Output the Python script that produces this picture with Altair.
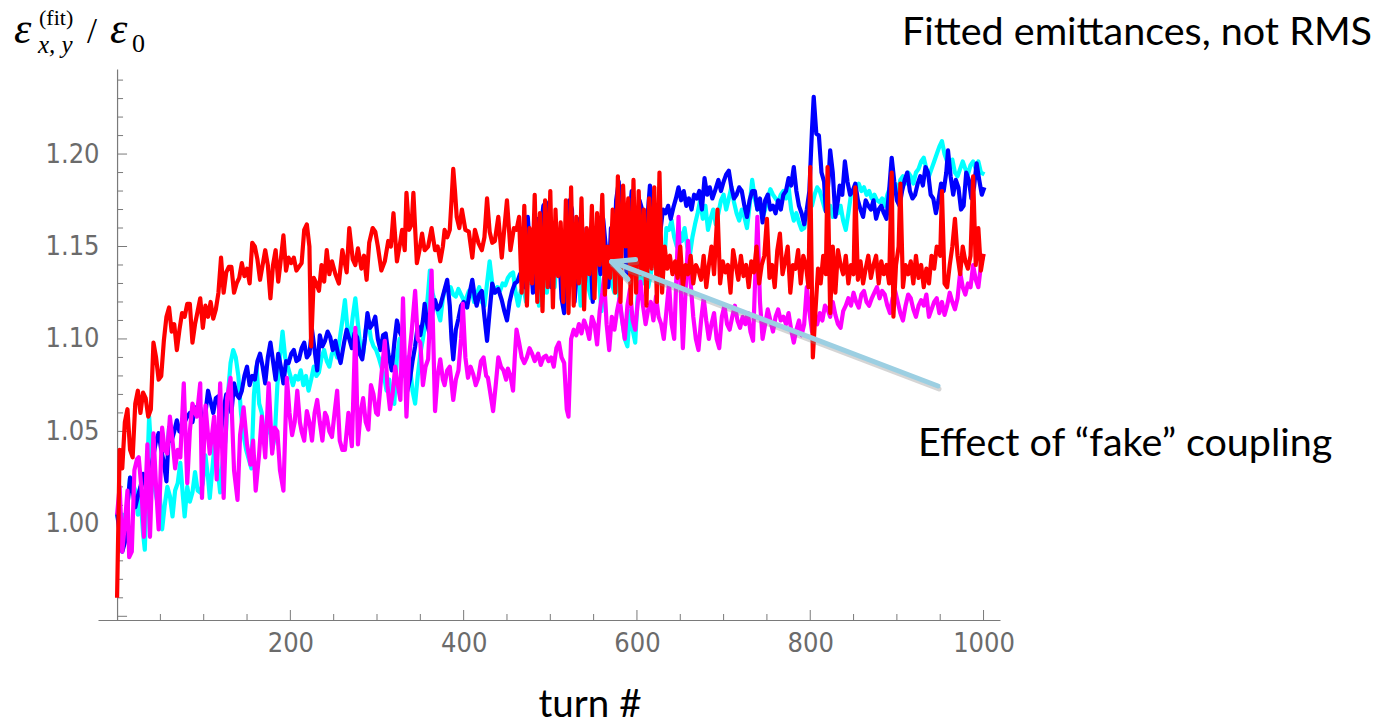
import math
import altair as alt
import pandas as pd

# ---------------- data (turn, emittance ratio) ----------------
RED = [(0,0.960),(3,1.040),(6,1.030),(9,1.055),(12,1.062),(15,1.040),(18,1.036),(21,1.065),(24,1.072),(27,1.060),
(30,1.071),(33,1.068),(36,1.058),(39,1.062),(42,1.098),(45,1.090),(48,1.078),(51,1.080),(54,1.099),(57,1.112),
(60,1.117),(63,1.104),(66,1.108),(69,1.094),(72,1.105),(75,1.114),(78,1.112),(81,1.119),(84,1.119),(87,1.098),
(90,1.108),(93,1.115),(96,1.122),(99,1.106),(102,1.118),(105,1.112),(108,1.120),(111,1.111),(114,1.116),(117,1.125),
(120,1.144),(123,1.125),(126,1.136),(129,1.139),(132,1.139),(135,1.125),(138,1.130),(141,1.133),(144,1.141),(147,1.134),
(150,1.138),(153,1.130),(156,1.152),(159,1.150),(162,1.143),(165,1.132),(168,1.140),(171,1.148),(174,1.140),(177,1.122),
(180,1.140),(183,1.148),(186,1.131),(189,1.143),(192,1.156),(195,1.137),(198,1.144),(201,1.141),(204,1.144),(207,1.137),
(210,1.139),(213,1.141),(216,1.159),(219,1.162),(222,1.150),(224,1.096),(227,1.133),(230,1.130),(233,1.126),(236,1.140),
(239,1.131),(242,1.148),(245,1.135),(248,1.142),(252,1.135),(256,1.130),(260,1.148),(265,1.136),(268,1.160),(272,1.143),
(275,1.140),(278,1.149),(282,1.138),(285,1.145),(288,1.132),(291,1.152),(295,1.160),(298,1.158),(301,1.150),(305,1.137),
(309,1.142),(313,1.153),(316,1.150),(319,1.168),(323,1.142),(326,1.150),(329,1.159),(332,1.148),(334,1.179),(337,1.159),
(340,1.162),(342,1.179),(346,1.141),(349,1.148),(352,1.157),(355,1.148),(359,1.150),(363,1.160),(367,1.148),(370,1.150),
(373,1.142),(376,1.150),(378,1.159),(381,1.155),(384,1.159),(386,1.175),(388,1.192),(390,1.180),(392,1.166),(395,1.160),
(398,1.170),(402,1.159),(406,1.158),(410,1.144),(413,1.159),(417,1.152),(421,1.148),(424,1.155),(427,1.176),(430,1.158),
(433,1.152),(436,1.153),(440,1.166),(444,1.144),(447,1.160),(450,1.175),(454,1.148),(458,1.160),(461,1.159),(464,1.166),
(467,1.125),(470,1.172),(473,1.118),(476,1.160),(479,1.130),(482,1.178),(485,1.120),(488,1.168),(491,1.115),(494,1.175),
(497,1.128),(500,1.180),(503,1.117),(506,1.170),(509,1.134),(512,1.163),(515,1.120),(518,1.175),(521,1.114),(524,1.182),
(527,1.118),(530,1.166),(533,1.130),(536,1.176),(539,1.116),(542,1.160),(545,1.135),(548,1.172),(551,1.122),(554,1.168),
(557,1.140),(560,1.178),(563,1.124),(566,1.150),(569,1.133),(572,1.170),(575,1.125),(578,1.188),(581,1.120),(584,1.183),
(587,1.150),(590,1.176),(593,1.119),(596,1.186),(599,1.125),(602,1.180),(605,1.135),(608,1.170),(611,1.118),(614,1.176),
(617,1.138),(620,1.182),(623,1.120),(626,1.190),(629,1.125),(632,1.150),(635,1.138),(638,1.145),(641,1.135),(644,1.142),
(647,1.133),(650,1.150),(653,1.128),(656,1.140),(659,1.135),(662,1.145),(665,1.130),(668,1.140),(671,1.137),(674,1.132),
(677,1.145),(680,1.128),(683,1.140),(686,1.150),(689,1.135),(693,1.170),(696,1.130),(699,1.142),(702,1.136),(705,1.140),
(708,1.125),(711,1.148),(714,1.140),(717,1.132),(720,1.145),(723,1.134),(726,1.140),(729,1.128),(732,1.142),(735,1.136),
(738,1.150),(741,1.130),(744,1.140),(747,1.145),(750,1.165),(753,1.133),(756,1.140),(759,1.128),(762,1.148),(765,1.157),
(768,1.135),(771,1.142),(774,1.150),(777,1.125),(780,1.140),(783,1.138),(786,1.148),(789,1.130),(792,1.145),(795,1.140),
(798,1.128),(800,1.193),(803,1.090),(806,1.115),(809,1.138),(812,1.130),(815,1.145),(818,1.135),(820,1.193),(823,1.114),
(826,1.150),(829,1.125),(832,1.148),(835,1.140),(838,1.135),(841,1.145),(844,1.130),(847,1.140),(850,1.135),(852,1.182),
(855,1.132),(858,1.142),(861,1.130),(864,1.138),(867,1.145),(870,1.133),(873,1.140),(876,1.145),(879,1.130),(882,1.142),
(885,1.135),(888,1.140),(891,1.130),(894,1.190),(896,1.112),(899,1.140),(902,1.150),(904,1.184),(907,1.128),(910,1.140),
(913,1.135),(916,1.142),(919,1.130),(922,1.145),(925,1.133),(928,1.140),(931,1.128),(934,1.138),(937,1.130),(940,1.145),
(943,1.138),(946,1.150),(950,1.145),(952,1.180),(955,1.130),(958,1.128),(961,1.140),(964,1.150),(967,1.165),(970,1.145),
(973,1.135),(976,1.150),(979,1.142),(982,1.138),(985,1.145),(988,1.188),(991,1.140),(994,1.160),(997,1.137),(1000,1.146)]

BLUE = [(0,1.006),(3,0.995),(6,0.985),(9,0.990),(12,1.010),(15,1.025),(18,1.018),(21,1.009),(24,1.015),(27,1.020),
(30,1.027),(33,1.020),(36,1.022),(39,1.030),(42,1.037),(45,1.045),(48,1.049),(51,1.040),(54,1.033),(57,1.023),
(60,1.052),(63,1.045),(66,1.050),(69,1.056),(72,1.050),(75,1.049),(78,1.055),(81,1.058),(84,1.060),(87,1.055),
(90,1.063),(93,1.060),(96,1.063),(99,1.052),(102,1.060),(105,1.072),(108,1.066),(111,1.060),(114,1.068),(117,1.069),
(120,1.050),(123,1.062),(126,1.070),(129,1.064),(132,1.060),(135,1.076),(138,1.070),(141,1.068),(144,1.072),(147,1.080),
(150,1.085),(153,1.075),(156,1.080),(159,1.078),(162,1.088),(165,1.092),(168,1.085),(171,1.076),(174,1.090),(177,1.098),
(180,1.088),(183,1.078),(186,1.092),(189,1.085),(192,1.076),(195,1.088),(198,1.087),(201,1.092),(204,1.094),(207,1.088),
(210,1.089),(213,1.095),(216,1.098),(219,1.090),(222,1.092),(225,1.105),(228,1.094),(231,1.083),(234,1.102),(237,1.096),
(240,1.099),(243,1.104),(246,1.101),(249,1.094),(252,1.099),(255,1.092),(258,1.087),(262,1.098),(265,1.105),(268,1.100),
(271,1.095),(274,1.103),(277,1.101),(280,1.092),(283,1.089),(286,1.100),(289,1.114),(292,1.106),(295,1.108),(298,1.112),
(301,1.100),(304,1.094),(307,1.102),(310,1.103),(313,1.092),(317,1.083),(320,1.098),(323,1.110),(326,1.104),(329,1.101),
(332,1.085),(335,1.072),(338,1.078),(341,1.088),(344,1.096),(347,1.107),(350,1.102),(353,1.110),(355,1.119),(358,1.108),
(361,1.102),(364,1.115),(367,1.121),(370,1.116),(373,1.118),(377,1.125),(381,1.132),(384,1.118),(386,1.100),(388,1.089),
(391,1.105),(394,1.111),(397,1.118),(400,1.120),(404,1.117),(407,1.125),(410,1.132),(413,1.122),(415,1.118),(418,1.124),
(421,1.126),(424,1.112),(427,1.099),(430,1.115),(433,1.130),(436,1.125),(440,1.127),(444,1.121),(447,1.115),(450,1.110),
(453,1.120),(456,1.126),(459,1.130),(462,1.131),(465,1.135),(468,1.130),(471,1.128),(474,1.166),(477,1.145),(480,1.125),
(483,1.140),(486,1.165),(489,1.160),(492,1.172),(495,1.174),(498,1.150),(501,1.128),(504,1.135),(507,1.140),(510,1.150),
(513,1.122),(516,1.114),(519,1.160),(522,1.175),(525,1.170),(528,1.120),(531,1.140),(534,1.165),(537,1.160),(540,1.130),
(543,1.158),(546,1.150),(549,1.120),(552,1.155),(555,1.145),(558,1.135),(561,1.165),(564,1.150),(567,1.128),(570,1.160),
(573,1.140),(576,1.175),(579,1.185),(582,1.150),(585,1.170),(588,1.135),(591,1.165),(594,1.180),(597,1.160),(600,1.140),
(603,1.175),(606,1.170),(609,1.150),(612,1.165),(615,1.183),(618,1.172),(621,1.160),(624,1.168),(627,1.158),(630,1.170),
(633,1.168),(636,1.172),(639,1.165),(642,1.171),(645,1.176),(648,1.182),(651,1.175),(654,1.180),(657,1.172),(660,1.176),
(663,1.170),(666,1.178),(669,1.176),(672,1.180),(675,1.170),(678,1.187),(681,1.178),(684,1.182),(687,1.176),(690,1.180),
(694,1.186),(697,1.180),(700,1.185),(703,1.189),(706,1.191),(709,1.182),(712,1.176),(715,1.178),(718,1.182),(721,1.180),
(724,1.172),(727,1.166),(730,1.175),(733,1.180),(736,1.180),(739,1.170),(742,1.176),(745,1.163),(748,1.175),(751,1.178),
(754,1.170),(757,1.172),(760,1.168),(763,1.175),(766,1.170),(769,1.178),(772,1.180),(775,1.187),(778,1.183),(781,1.193),
(784,1.180),(787,1.172),(790,1.168),(793,1.162),(796,1.170),(799,1.180),(802,1.213),(804,1.231),(807,1.211),(810,1.210),
(813,1.190),(816,1.185),(818,1.169),(821,1.185),(823,1.202),(826,1.190),(829,1.166),(832,1.175),(834,1.183),(837,1.178),
(840,1.196),(843,1.185),(846,1.178),(849,1.180),(852,1.184),(855,1.175),(858,1.170),(861,1.166),(864,1.175),(867,1.172),
(870,1.170),(873,1.175),(876,1.165),(879,1.170),(882,1.172),(885,1.168),(888,1.165),(891,1.180),(894,1.198),(897,1.185),
(900,1.175),(903,1.172),(906,1.180),(909,1.186),(912,1.190),(915,1.180),(918,1.176),(921,1.178),(924,1.184),(927,1.188),
(930,1.183),(933,1.193),(936,1.190),(939,1.178),(942,1.176),(945,1.168),(948,1.175),(951,1.184),(954,1.180),(957,1.190),
(959,1.202),(962,1.188),(965,1.178),(968,1.186),(971,1.182),(974,1.170),(977,1.172),(980,1.190),(983,1.186),(986,1.176),
(989,1.182),(992,1.195),(995,1.186),(998,1.178),(1001,1.182)]

CYAN = [(0,1.005),(3,1.000),(6,1.005),(9,0.995),(12,1.010),(15,1.025),(18,1.022),(21,1.018),(24,1.005),(27,1.015),
(30,0.995),(32,0.986),(35,1.030),(37,1.058),(40,1.035),(43,1.020),(46,1.013),(49,1.017),(52,0.997),(55,1.010),
(58,1.020),(61,1.015),(64,1.004),(67,1.018),(70,1.022),(73,1.033),(76,1.015),(78,1.004),(81,1.020),(84,1.012),
(87,1.017),(90,1.028),(93,1.018),(96,1.017),(99,1.022),(102,1.037),(105,1.025),(107,1.014),(110,1.030),(113,1.045),
(116,1.030),(119,1.017),(122,1.035),(125,1.045),(128,1.070),(131,1.087),(134,1.094),(137,1.090),(140,1.080),(143,1.060),
(146,1.048),(149,1.040),(152,1.035),(155,1.030),(158,1.070),(161,1.085),(164,1.065),(167,1.060),(170,1.045),(173,1.050),
(176,1.055),(179,1.040),(182,1.047),(185,1.075),(188,1.090),(191,1.104),(194,1.090),(197,1.085),(200,1.080),(203,1.075),
(206,1.080),(209,1.078),(212,1.083),(215,1.075),(218,1.080),(221,1.072),(224,1.078),(227,1.085),(230,1.080),(233,1.082),
(236,1.090),(239,1.094),(242,1.088),(245,1.085),(248,1.092),(251,1.094),(254,1.090),(257,1.100),(260,1.110),(263,1.121),
(266,1.105),(269,1.100),(272,1.112),(275,1.122),(278,1.108),(281,1.095),(284,1.092),(287,1.105),(290,1.110),(293,1.100),
(296,1.096),(299,1.094),(302,1.090),(305,1.085),(308,1.080),(311,1.072),(314,1.078),(317,1.067),(320,1.065),(323,1.090),
(326,1.100),(329,1.085),(332,1.080),(335,1.090),(338,1.085),(341,1.072),(344,1.065),(347,1.080),(350,1.092),(353,1.100),
(356,1.110),(359,1.125),(361,1.137),(364,1.125),(367,1.120),(370,1.115),(373,1.110),(376,1.122),(379,1.128),(382,1.126),
(385,1.128),(388,1.124),(391,1.123),(394,1.127),(397,1.124),(400,1.121),(403,1.122),(406,1.126),(409,1.127),(412,1.120),
(415,1.124),(418,1.128),(421,1.120),(424,1.118),(427,1.130),(430,1.142),(433,1.130),(436,1.125),(439,1.128),(442,1.126),
(445,1.130),(448,1.129),(451,1.133),(454,1.135),(457,1.136),(460,1.125),(463,1.118),(466,1.126),(469,1.128),(472,1.120),
(475,1.140),(478,1.130),(481,1.150),(484,1.130),(487,1.118),(490,1.135),(493,1.145),(496,1.125),(499,1.140),(502,1.132),
(505,1.128),(508,1.150),(511,1.138),(514,1.126),(517,1.140),(520,1.155),(523,1.135),(526,1.130),(529,1.150),(532,1.142),
(535,1.118),(538,1.135),(541,1.148),(544,1.128),(547,1.122),(550,1.140),(553,1.150),(556,1.135),(559,1.115),(562,1.130),
(565,1.145),(568,1.150),(571,1.130),(574,1.125),(577,1.140),(580,1.120),(583,1.110),(586,1.100),(589,1.096),(592,1.115),
(595,1.105),(598,1.098),(601,1.125),(604,1.140),(607,1.130),(610,1.145),(613,1.128),(616,1.135),(619,1.148),(622,1.140),
(625,1.130),(628,1.150),(631,1.138),(634,1.160),(637,1.159),(640,1.164),(643,1.155),(646,1.150),(649,1.158),(652,1.153),
(655,1.160),(658,1.150),(661,1.145),(664,1.155),(667,1.162),(670,1.168),(673,1.175),(676,1.165),(679,1.172),(682,1.159),
(685,1.165),(688,1.170),(691,1.162),(694,1.168),(697,1.175),(700,1.178),(703,1.170),(706,1.176),(709,1.182),(712,1.174),
(715,1.168),(718,1.164),(721,1.170),(724,1.166),(727,1.160),(730,1.172),(733,1.186),(736,1.176),(739,1.170),(742,1.172),
(745,1.166),(748,1.170),(751,1.176),(754,1.181),(757,1.178),(760,1.176),(763,1.174),(766,1.178),(769,1.180),(772,1.176),
(775,1.182),(778,1.170),(781,1.164),(784,1.168),(787,1.163),(790,1.159),(793,1.160),(796,1.168),(799,1.175),(802,1.172),
(805,1.178),(808,1.182),(811,1.180),(814,1.175),(817,1.170),(820,1.168),(823,1.172),(826,1.166),(829,1.170),(832,1.168),
(835,1.172),(838,1.164),(841,1.159),(844,1.168),(847,1.178),(850,1.180),(853,1.182),(856,1.184),(859,1.180),(862,1.182),
(865,1.178),(868,1.180),(871,1.176),(874,1.178),(877,1.175),(880,1.174),(883,1.176),(886,1.172),(889,1.178),(892,1.182),
(895,1.185),(898,1.184),(901,1.180),(904,1.186),(907,1.188),(910,1.184),(913,1.190),(916,1.188),(919,1.184),(922,1.190),
(925,1.192),(928,1.196),(931,1.198),(934,1.192),(937,1.188),(940,1.192),(943,1.196),(946,1.200),(949,1.204),(952,1.207),
(955,1.200),(958,1.196),(961,1.192),(964,1.197),(967,1.190),(970,1.188),(973,1.192),(976,1.196),(979,1.192),(982,1.189),
(985,1.194),(988,1.196),(991,1.192),(994,1.196),(997,1.190),(1001,1.189)]

MAGENTA = [(0,1.005),(3,1.020),(6,0.985),(9,1.000),(12,1.018),(14,0.982),(17,0.985),(20,1.029),(23,1.035),(25,1.036),
(28,1.020),(31,0.993),(35,1.043),(38,0.993),(42,1.049),(45,1.020),(48,0.997),(52,1.052),(55,1.040),(58,1.038),
(61,1.058),(64,1.045),(67,1.030),(70,1.040),(73,1.036),(77,1.076),(81,1.022),(84,1.050),(87,1.065),(90,1.060),
(92,1.058),(96,1.076),(98,1.014),(102,1.064),(105,1.048),(107,1.038),(110,1.050),(112,1.058),(115,1.024),(119,1.076),
(123,1.014),(127,1.068),(131,1.079),(135,1.029),(139,1.013),(142,1.048),(146,1.063),(150,1.043),(154,1.032),(157,1.045),
(160,1.018),(164,1.038),(167,1.058),(171,1.036),(175,1.076),(179,1.038),(182,1.052),(185,1.050),(188,1.029),(192,1.018),
(196,1.079),(199,1.060),(202,1.048),(205,1.055),(208,1.072),(211,1.055),(213,1.050),(216,1.045),(219,1.061),(222,1.055),
(225,1.045),(228,1.060),(231,1.067),(234,1.055),(237,1.045),(240,1.060),(242,1.058),(245,1.050),(248,1.047),(251,1.060),
(254,1.072),(257,1.045),(260,1.040),(263,1.040),(267,1.060),(271,1.042),(275,1.106),(278,1.043),(281,1.060),(284,1.068),
(287,1.055),(290,1.051),(293,1.075),(296,1.070),(299,1.060),(301,1.059),(305,1.080),(309,1.099),(312,1.075),(315,1.062),
(318,1.070),(321,1.085),(324,1.075),(327,1.067),(330,1.122),(334,1.058),(337,1.090),(340,1.104),(344,1.126),(347,1.100),
(350,1.098),(353,1.075),(356,1.085),(359,1.089),(361,1.110),(363,1.137),(367,1.061),(370,1.080),(373,1.089),(376,1.078),
(378,1.075),(381,1.083),(384,1.085),(388,1.067),(391,1.078),(394,1.083),(397,1.100),(399,1.119),(402,1.090),(405,1.079),
(408,1.085),(411,1.081),(414,1.075),(417,1.079),(420,1.088),(423,1.090),(426,1.080),(428,1.079),(431,1.070),(434,1.061),
(437,1.075),(440,1.090),(443,1.085),(446,1.083),(449,1.078),(451,1.084),(454,1.080),(457,1.072),(459,1.090),(461,1.105),
(464,1.098),(467,1.090),(470,1.087),(473,1.090),(476,1.095),(479,1.092),(482,1.088),(486,1.092),(489,1.086),(492,1.090),
(495,1.091),(498,1.088),(501,1.090),(504,1.085),(507,1.095),(510,1.098),(513,1.090),(516,1.087),(519,1.062),(521,1.058),
(524,1.100),(527,1.105),(530,1.102),(533,1.108),(536,1.103),(539,1.110),(542,1.106),(545,1.100),(548,1.112),(551,1.108),
(554,1.097),(557,1.115),(560,1.125),(562,1.133),(565,1.108),(568,1.094),(571,1.112),(574,1.105),(577,1.115),(580,1.122),
(583,1.110),(586,1.100),(589,1.118),(592,1.127),(595,1.110),(598,1.105),(601,1.120),(604,1.131),(607,1.118),(610,1.108),
(613,1.116),(616,1.120),(619,1.110),(622,1.123),(625,1.112),(628,1.108),(631,1.100),(634,1.115),(637,1.130),(640,1.108),
(643,1.100),(646,1.140),(648,1.166),(651,1.120),(653,1.095),(656,1.125),(659,1.153),(662,1.130),(665,1.112),(668,1.100),
(671,1.094),(674,1.110),(677,1.122),(680,1.110),(683,1.100),(686,1.108),(689,1.114),(692,1.100),(695,1.095),(698,1.112),
(701,1.118),(704,1.108),(707,1.105),(710,1.112),(713,1.118),(716,1.110),(719,1.106),(722,1.112),(725,1.108),(728,1.114),
(731,1.104),(734,1.099),(737,1.140),(739,1.166),(742,1.120),(745,1.100),(748,1.108),(751,1.116),(754,1.110),(757,1.104),
(760,1.112),(763,1.116),(766,1.110),(769,1.112),(772,1.108),(775,1.114),(778,1.105),(781,1.098),(784,1.105),(787,1.110),
(790,1.102),(793,1.108),(796,1.128),(799,1.115),(802,1.104),(805,1.110),(808,1.108),(811,1.114),(814,1.110),(817,1.118),
(820,1.116),(823,1.112),(826,1.120),(829,1.113),(832,1.108),(835,1.106),(838,1.115),(841,1.118),(844,1.122),(847,1.118),
(850,1.125),(853,1.120),(856,1.117),(859,1.124),(862,1.126),(865,1.120),(868,1.118),(871,1.122),(874,1.125),(877,1.128),
(880,1.122),(883,1.126),(886,1.124),(889,1.118),(892,1.114),(895,1.122),(898,1.126),(901,1.120),(904,1.114),(907,1.110),
(910,1.118),(913,1.124),(916,1.122),(919,1.116),(922,1.112),(925,1.118),(928,1.121),(931,1.118),(934,1.124),(937,1.112),
(940,1.116),(943,1.120),(946,1.122),(949,1.114),(952,1.120),(955,1.113),(958,1.118),(961,1.125),(964,1.120),(967,1.116),
(970,1.122),(973,1.136),(976,1.128),(979,1.124),(982,1.130),(985,1.128),(988,1.140),(991,1.132),(994,1.128),(997,1.140),
(1000,1.146)]

# axis ticks / labels
X_LABELS = [200, 400, 600, 800, 1000]
X_MINOR = [50, 100, 150, 250, 300, 350, 450, 500, 550, 650, 700, 750, 850, 900, 950]
Y_LABELS = [1.00, 1.05, 1.10, 1.15, 1.20]
Y_MAJOR = [0.95, 1.00, 1.05, 1.10, 1.15, 1.20]
Y_MINOR = [0.96, 0.97, 0.98, 0.99, 1.01, 1.02, 1.03, 1.04, 1.06, 1.07, 1.08, 1.09, 1.11, 1.12, 1.13, 1.14,
           1.16, 1.17, 1.18, 1.19, 1.21, 1.22, 1.23, 1.24]

X_DOMAIN = [-22, 1019]
Y_DOMAIN = [0.948, 1.246]

# ---------------- layout ----------------
W, H = 902, 551
PAD = {"left": 98, "top": 69, "right": 1384 - 98 - W, "bottom": 724 - 69 - H}
X0 = (0 - X_DOMAIN[0]) / (X_DOMAIN[1] - X_DOMAIN[0]) * W  # pixel of turn 0 (y axis)

TICK_FONT = "'Liberation Sans Narrow', 'DejaVu Sans Condensed', 'Liberation Sans', sans-serif"
AX_COL = "#7a7a7a"
LAB_COL = "#6b6b6b"

xs = alt.Scale(domain=X_DOMAIN, nice=False, zero=False)
ys = alt.Scale(domain=Y_DOMAIN, nice=False, zero=False)

x_axis = alt.Axis(values=X_LABELS, format="d", ticks=False, grid=False, title=None,
                  domainColor=AX_COL, domainWidth=1.2, labelFont=TICK_FONT, labelFontSize=27,
                  labelColor=LAB_COL, labelPadding=10)
y_axis = alt.Axis(values=Y_LABELS, format=".2f", ticks=False, grid=False, title=None,
                  domainColor=AX_COL, domainWidth=1.2, labelFont=TICK_FONT, labelFontSize=27,
                  labelColor=LAB_COL, labelPadding=18, offset=-X0)


def line_layer(pairs, color):
    df = pd.DataFrame(pairs, columns=["turn", "value"])
    return alt.Chart(df).mark_line(color=color, strokeWidth=4.2, strokeJoin="round", clip=True).encode(
        x=alt.X("turn:Q", scale=xs, axis=x_axis),
        y=alt.Y("value:Q", scale=ys, axis=y_axis),
    )


lines = [line_layer(CYAN, "#00FFFF"), line_layer(BLUE, "#0000FF"),
         line_layer(MAGENTA, "#FF00FF"), line_layer(RED, "#FF0000")]


def ytick_layer(vals, length):
    df = pd.DataFrame({"v": vals})
    return alt.Chart(df).mark_rule(color=AX_COL, strokeWidth=1).encode(
        y=alt.Y("v:Q", scale=ys, axis=y_axis), x=alt.value(X0), x2=alt.value(X0 + length))


def xtick_layer(vals, length):
    df = pd.DataFrame({"v": vals})
    return alt.Chart(df).mark_rule(color=AX_COL, strokeWidth=1).encode(
        x=alt.X("v:Q", scale=xs, axis=x_axis), y=alt.value(H), y2=alt.value(H - length))


ticks = [ytick_layer(Y_MAJOR, 10), ytick_layer(Y_MINOR, 6),
         xtick_layer(X_LABELS, 10), xtick_layer(X_MINOR, 6)]

one = pd.DataFrame({"a": [0]})


def txt(s, x, y, size, font, align="left", style="normal", color="black"):
    return alt.Chart(one).mark_text(text=s, align=align, baseline="alphabetic", fontSize=size,
                                    font=font, fontStyle=style, color=color).encode(
        x=alt.value(x - PAD["left"]), y=alt.value(y - PAD["top"]))


SANS = "Lato, 'Open Sans', sans-serif"
SERIF = "'Liberation Serif', 'DejaVu Serif', serif"
texts = [
    txt("Fitted emittances, not RMS", 1372, 45, 39.5, SANS, align="right"),
    txt("turn #", 590, 717, 38.5, SANS, align="center"),
    txt("Effect of \u201cfake\u201d coupling", 918, 456, 39.5, SANS),
    txt("\u03b5", 14, 43, 44, SERIF, style="italic"),
    txt("(fit)", 39, 25, 22, SERIF),
    txt("x, y", 38, 53, 25, SERIF, style="italic"),
    txt("/", 87, 43, 36, SERIF),
    txt("\u03b5", 110, 43, 44, SERIF, style="italic"),
    txt("0", 132, 52, 26, SERIF),
]

# arrow (annotation)
TIP = (611.7, 261.7)
TAIL = (938.0, 386.0)
ARROW_COL = "#9ccfe2"
dxa, dya = TAIL[0] - TIP[0], TAIL[1] - TIP[1]
ang = math.atan2(dya, dxa)
wings = []
for d in (-0.46, 0.46):
    wings.append((TIP[0] + 24 * math.cos(ang + d), TIP[1] + 24 * math.sin(ang + d)))


def seg(p, q, color, width, opacity=1.0, off=(0, 0)):
    return alt.Chart(one).mark_rule(color=color, strokeWidth=width, strokeCap="round", opacity=opacity).encode(
        x=alt.value(p[0] - PAD["left"] + off[0]), y=alt.value(p[1] - PAD["top"] + off[1]),
        x2=alt.value(q[0] - PAD["left"] + off[0]), y2=alt.value(q[1] - PAD["top"] + off[1]))


arrow = [seg(TAIL, TIP, "#888888", 5, 0.35, (1, 3))]
arrow += [seg(TIP, w, "#888888", 5, 0.35, (1, 3)) for w in wings]
arrow += [seg(TAIL, TIP, ARROW_COL, 5)]
arrow += [seg(TIP, w, ARROW_COL, 5) for w in wings]

chart = alt.layer(*ticks, *lines, *arrow, *texts).properties(
    width=W, height=H, padding=PAD, autosize=alt.AutoSizeParams(type="none"),
    background="white",
).configure_view(stroke=None)

chart.save("out.html", embed_options={"renderer": "svg", "actions": False})
